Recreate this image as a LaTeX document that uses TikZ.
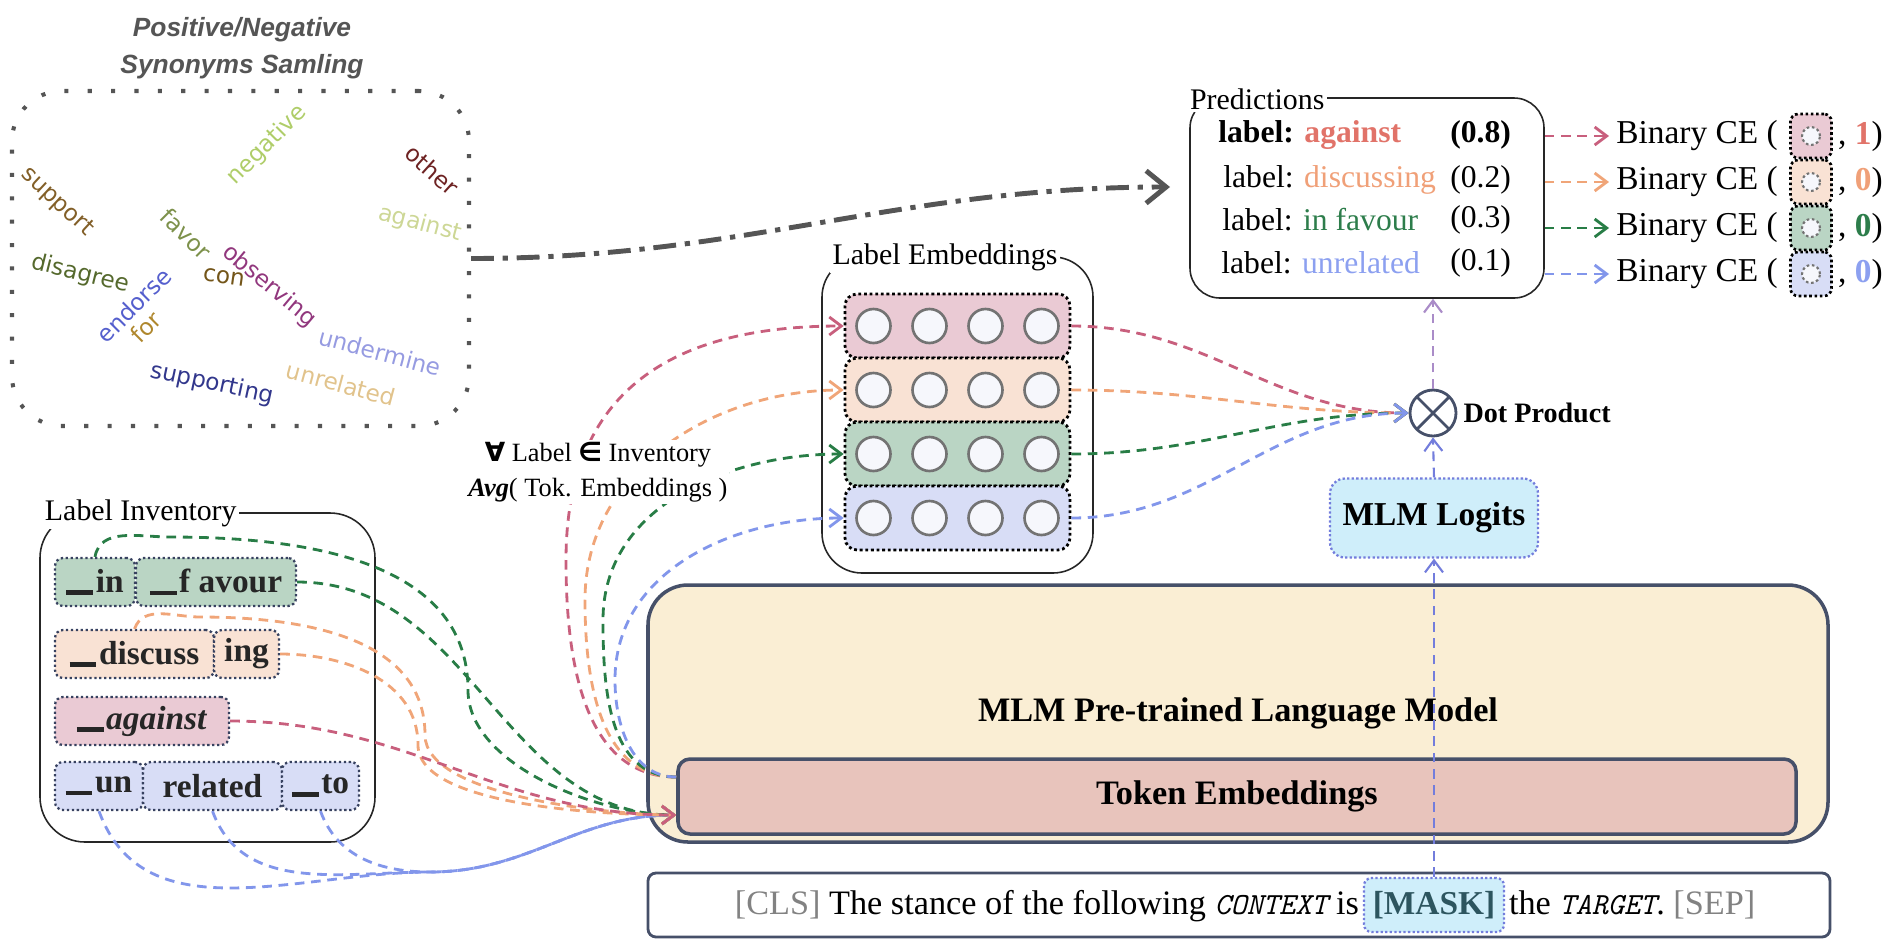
\documentclass[tikz,border=0pt]{standalone}
\usepackage{fontspec}
\setmainfont{Liberation Serif}
\newfontfamily\cloudfont{DejaVu Sans}
\newfontfamily\headfont{Liberation Sans}
\usetikzlibrary{arrows.meta,positioning}

\definecolor{synclr}{RGB}{85,85,85}
\definecolor{pinkc}{RGB}{200,95,125}
\definecolor{orangec}{RGB}{240,165,120}
\definecolor{greenc}{RGB}{40,125,70}
\definecolor{bluec}{RGB}{130,150,235}
\definecolor{purplec}{RGB}{170,140,200}
\definecolor{logitc}{RGB}{115,125,220}
\definecolor{pinkf}{RGB}{234,202,212}
\definecolor{orangef}{RGB}{249,226,212}
\definecolor{greenf}{RGB}{186,213,196}
\definecolor{bluef}{RGB}{216,221,246}
\definecolor{cyanf}{RGB}{207,238,250}
\definecolor{creamf}{RGB}{250,238,212}
\definecolor{tokf}{RGB}{232,196,188}
\definecolor{slate}{RGB}{70,80,105}
\definecolor{navyd}{RGB}{55,65,95}
\definecolor{unitf}{RGB}{246,247,252}
\definecolor{cagainst}{RGB}{225,115,105}
\definecolor{cdiscuss}{RGB}{240,160,120}
\definecolor{cfavour}{RGB}{45,125,75}
\definecolor{cunrel}{RGB}{140,160,240}
\definecolor{maskt}{RGB}{45,85,95}
\definecolor{clsgray}{RGB}{130,130,130}
% word cloud
\definecolor{wsupport}{RGB}{130,95,40}
\definecolor{wnegative}{RGB}{175,205,105}
\definecolor{wother}{RGB}{110,35,35}
\definecolor{wagainst}{RGB}{205,215,150}
\definecolor{wfavor}{RGB}{125,145,75}
\definecolor{wdisagree}{RGB}{85,105,45}
\definecolor{wcon}{RGB}{115,85,25}
\definecolor{wobserving}{RGB}{145,55,125}
\definecolor{wendorse}{RGB}{85,95,205}
\definecolor{wfor}{RGB}{175,135,45}
\definecolor{wundermine}{RGB}{150,155,225}
\definecolor{wsupporting}{RGB}{50,55,140}
\definecolor{wunrelated}{RGB}{225,195,140}

\newcommand{\wbar}{\rule[-0.09em]{0.8em}{0.14em}\hspace{0.08em}}
\newcommand{\ttword}[1]{{\fontsize{17.5}{20}\selectfont\ttfamily\itshape #1}}
\newcommand{\symb}[1]{{\cloudfont\bfseries #1}}

\tikzset{
  grp/.style={draw=black!85,line width=0.9pt},
  grptitle/.style={fill=white,inner sep=1.5pt,font=\fontsize{17}{20}\selectfont},
  tok/.style={draw=navyd,line width=1.3pt,dash pattern=on 1.3pt off 1.5pt,rounded corners=1.6mm,minimum height=9.6mm,inner sep=0pt,font=\fontsize{19}{22}\selectfont\bfseries,text=black!85},
  embrow/.style={draw=black,line width=1.6pt,dash pattern=on 1.6pt off 1.6pt,rounded corners=2.4mm,minimum width=45mm,minimum height=12.8mm},
  unit/.style={circle,draw=black!55,line width=1.5pt,fill=unitf,minimum size=6.8mm,inner sep=0pt},
  conn/.style={line width=1.6pt,dash pattern=on 5.5pt off 3.8pt},
  word/.style={font=\cloudfont\fontsize{13.2}{15}\selectfont},
  bigbox/.style={draw=slate,line width=2pt},
  dotbox/.style={draw=logitc,line width=1.3pt,dash pattern=on 1.3pt off 1.3pt,fill=cyanf},
  plab/.style={anchor=west,inner sep=0pt,font=\fontsize{18}{21}\selectfont},
  bce/.style={anchor=west,inner sep=4pt,font=\fontsize{19}{22}\selectfont},
  minibox/.style={draw=black,line width=1.5pt,dash pattern=on 1.5pt off 1.5pt,rounded corners=1.5mm,minimum width=8.2mm,minimum height=8.8mm,
    path picture={\draw[black!55,fill=unitf,line width=1.2pt] (path picture bounding box.center) circle (1.8mm);}},
  stxt/.style={inner sep=2pt,font=\fontsize{19.5}{23}\selectfont}
}

\begin{document}
\begin{tikzpicture}[x=0.2mm,y=-0.2mm,>={Straight Barb[length=2.4mm,width=3.6mm]},line join=round]
\useasboundingbox (0,0) rectangle (1890,946);

% synonyms sampling
\node[draw=synclr,line width=2.3pt,dash pattern=on 2.3pt off 11pt,rounded corners=10mm,minimum width=91.4mm,minimum height=67mm] (syn) at (240.5,258.5) {};
\node[font=\headfont\bfseries\itshape\fontsize{15}{21}\selectfont,text=synclr,align=center] (syntitle) at (242,48) {Positive/Negative\\Synonyms Samling};
\node[word,text=wsupport,rotate=-43] (w1) at (57,202) {support};
\node[word,text=wnegative,rotate=45] (w2) at (267,145) {negative};
\node[word,text=wother,rotate=-42] (w3) at (432,170) {other};
\node[word,text=wagainst,rotate=-15] (w4) at (420,224) {against};
\node[word,text=wfavor,rotate=-45] (w5) at (186,234) {favor};
\node[word,text=wdisagree,rotate=-14] (w6) at (80,274) {disagree};
\node[word,text=wcon,rotate=-8] (w7) at (224,277) {con};
\node[word,text=wobserving,rotate=-40] (w8) at (269,286) {observing};
\node[word,text=wendorse,rotate=45] (w9) at (134,305) {endorse};
\node[word,text=wfor,rotate=45] (w10) at (146,327) {for};
\node[word,text=wundermine,rotate=-15] (w11) at (380,352) {undermine};
\node[word,text=wsupporting,rotate=-12] (w12) at (212,384) {supporting};
\node[word,text=wunrelated,rotate=-15] (w13) at (341,384) {unrelated};

% predictions
\node[grp,rounded corners=6mm,minimum width=70.8mm,minimum height=40mm] (pred) at (1367,198) {};
\node[grptitle,anchor=west] (predtitle) at (1187,99) {Predictions};
\node[plab] (p1) at (1218,135) {\textbf{label: \textcolor{cagainst}{against}}};
\node[plab] (v1) at (1450,135) {\textbf{(0.8)}};
\node[plab] (p2) at (1223,180) {label: \textcolor{cdiscuss}{discussing}};
\node[plab] (v2) at (1450,180) {(0.2)};
\node[plab] (p3) at (1222,220) {label: \textcolor{cfavour}{in favour}};
\node[plab] (v3) at (1450,220) {(0.3)};
\node[plab] (p4) at (1221,263) {label: \textcolor{cunrel}{unrelated}};
\node[plab] (v4) at (1450,263) {(0.1)};

% binary cross entropy
\node[bce] (b1) at (1609,136) {Binary CE (};
\node[minibox,fill=pinkf] (m1) at (1811,136) {};
\node[bce,inner sep=1pt] (r1) at (1836,136) {, \textcolor{cagainst}{\textbf{1}})};
\node[bce] (b2) at (1609,182) {Binary CE (};
\node[minibox,fill=orangef] (m2) at (1811,182) {};
\node[bce,inner sep=1pt] (r2) at (1836,182) {, \textcolor{cdiscuss}{\textbf{0}})};
\node[bce] (b3) at (1609,228) {Binary CE (};
\node[minibox,fill=greenf] (m3) at (1811,228) {};
\node[bce,inner sep=1pt] (r3) at (1836,228) {, \textcolor{cfavour}{\textbf{0}})};
\node[bce] (b4) at (1609,274) {Binary CE (};
\node[minibox,fill=bluef] (m4) at (1811,274) {};
\node[bce,inner sep=1pt] (r4) at (1836,274) {, \textcolor{cunrel}{\textbf{0}})};
\draw[conn,->,pinkc] (pred.east |- b1) -- (b1.west);
\draw[conn,->,orangec] (pred.east |- b2) -- (b2.west);
\draw[conn,->,greenc] (pred.east |- b3) -- (b3.west);
\draw[conn,->,bluec] (pred.east |- b4) -- (b4.west);

% label embeddings
\node[grp,rounded corners=8mm,minimum width=54.2mm,minimum height=63.2mm] (lemb) at (957.5,415) {};
\node[grptitle] (lembtitle) at (945,257) {Label Embeddings};
\node[embrow,fill=pinkf] (e1) at (957.5,326) {};
\node[embrow,fill=orangef] (e2) at (957.5,390) {};
\node[embrow,fill=greenf] (e3) at (957.5,454) {};
\node[embrow,fill=bluef] (e4) at (957.5,518) {};
\foreach \r in {1,...,4}
  \foreach \c in {-84,-28,28,84}
    \node[unit] at ([xshift=\c*0.2mm]e\r.center) {};

% dot product and logits
\node[circle,draw=slate,line width=1.6pt,minimum size=9.2mm,inner sep=0pt,
  path picture={\draw[slate,line width=1.6pt] (path picture bounding box.north west) -- (path picture bounding box.south east)
    (path picture bounding box.north east) -- (path picture bounding box.south west);}] (dot) at (1433,413) {};
\node[anchor=west,font=\fontsize{16}{19}\selectfont\bfseries] (dotlabel) at (dot.east) {Dot Product};
\node[dotbox,rounded corners=3mm,minimum width=41.6mm,minimum height=15.8mm,font=\fontsize{19}{22}\selectfont\bfseries] (logits) at (1434,518) {MLM Logits};

% language model
\node[bigbox,fill=creamf,rounded corners=8mm,minimum width=236mm,minimum height=51.4mm,font=\fontsize{19.5}{23}\selectfont\bfseries] (mlm) at (1238,713.5) {MLM Pre-trained Language Model};
\node[bigbox,fill=tokf,rounded corners=2.4mm,minimum width=223.6mm,minimum height=15mm,font=\fontsize{19.5}{23}\selectfont\bfseries] (tokemb) at (1237,796.5) {Token Embeddings};
\coordinate (tokin) at ([yshift=-3.7mm]tokemb.west);
\coordinate (tokout) at ([yshift=3.9mm]tokemb.west);

% input sentence
\node[bigbox,line width=1.6pt,rounded corners=1.6mm,minimum width=236.4mm,minimum height=12.8mm] (sent) at (1239,905) {};
\node[dotbox,rounded corners=1.5mm,minimum width=28mm,minimum height=10.8mm,inner sep=1pt,font=\fontsize{19}{22}\selectfont\bfseries,text=maskt] (mask) at (1434,905) {[MASK]};
\node[stxt,anchor=base east] (sleft) at (mask.base west) {\textcolor{clsgray}{[CLS]} The stance of the following \ttword{CONTEXT} is};
\node[stxt,anchor=base west] (sright) at (mask.base east) {the \ttword{TARGET}. \textcolor{clsgray}{[SEP]}};

% label inventory
\node[grp,rounded corners=9mm,minimum width=67mm,minimum height=65.8mm] (linv) at (207.5,677.5) {};
\node[grptitle,anchor=west] (linvtitle) at (42,513) {Label Inventory};
\node[tok,fill=greenf,minimum width=16mm] (tin) at (95,582) {\wbar in};
\node[tok,fill=greenf,minimum width=32mm] (tfavour) at (216,582) {\wbar f avour};
\node[tok,fill=orangef,minimum width=31.8mm] (tdiscuss) at (134.5,654) {\wbar discuss};
\node[tok,fill=orangef,minimum width=13mm] (ting) at (246.5,654) {ing};
\node[tok,fill=pinkf,minimum width=34.8mm] (tagainst) at (142,721) {\wbar\textit{against}};
\node[tok,fill=bluef,minimum width=17.6mm] (tun) at (99,786) {\wbar un};
\node[tok,fill=bluef,minimum width=27.8mm] (trelated) at (212.5,786) {related};
\node[tok,fill=bluef,minimum width=15.4mm] (tto) at (320.5,786) {\wbar to};

% inventory -> token embeddings
\draw[conn,->,bluec] (tun.south) to[out=-70,in=180] (430,872) to[out=0,in=180] (tokin);
\draw[conn,->,bluec] (trelated.south) to[out=-70,in=180] (430,872) to[out=0,in=180] (tokin);
\draw[conn,->,bluec] (tto.south) to[out=-70,in=180] (430,872) to[out=0,in=180] (tokin);
\draw[conn,->,greenc] (tin.north) to[out=80,in=180] (170,537) to[out=0,in=90] (468,690) to[out=-90,in=180,looseness=0.8] (tokin);
\draw[conn,->,greenc] (tfavour.east) to[out=0,in=180] (tokin);
\draw[conn,->,orangec] (tdiscuss.north) to[out=70,in=180] (200,617) to[out=0,in=90] (425,735) to[out=-90,in=180,looseness=0.6] (tokin);
\draw[conn,->,orangec] (ting.east) to[out=0,in=90] (418,745) to[out=-90,in=180,looseness=0.6] (tokin);
\draw[conn,->,pinkc] (tagainst.east) to[out=0,in=180] (tokin);

% token embeddings -> label embeddings
\draw[conn,->,pinkc] (tokout) to[out=180,in=-90] (566,560) to[out=90,in=180,looseness=1.2] (e1.west);
\draw[conn,->,orangec] (tokout) to[out=180,in=-90] (585,600) to[out=90,in=180] (e2.west);
\draw[conn,->,greenc] (tokout) to[out=180,in=-90] (603,620) to[out=90,in=180] (e3.west);
\draw[conn,->,bluec] (tokout) to[out=180,in=-90] (615,680) to[out=90,in=180] (e4.west);
\node[fill=white,inner sep=1pt,align=center,font=\fontsize{15}{20}\selectfont] (avg) at (598,472) {\symb{∀} Label \symb{∈} Inventory\\\textbf{\textit{Avg}}( Tok. Embeddings )};

% label embeddings -> dot product
\draw[conn,->,pinkc] (e1.east) to[out=0,in=180] (dot.west);
\draw[conn,->,orangec] (e2.east) to[out=0,in=180] (dot.west);
\draw[conn,->,greenc] (e3.east) to[out=0,in=180] (dot.west);
\draw[conn,->,bluec] (e4.east) to[out=0,in=180] (dot.west);

% mask -> logits -> dot -> predictions
\draw[conn,line width=1.2pt,->,logitc] (mask.north) -- (logits.south);
\draw[conn,line width=1.2pt,->,logitc] (logits.north) -- (dot.south);
\draw[conn,line width=1.2pt,->,purplec] (dot.north) -- (dot.north |- pred.south);

% sampling arrow
\coordinate (predin) at (1170,187);
\draw[synclr,line width=2.8pt,dash pattern=on 13pt off 5pt on 3pt off 5pt,-{Straight Barb[length=4mm,width=6.5mm]}] (syn.east) to[out=0,in=180] (predin);
\end{tikzpicture}
\end{document}
